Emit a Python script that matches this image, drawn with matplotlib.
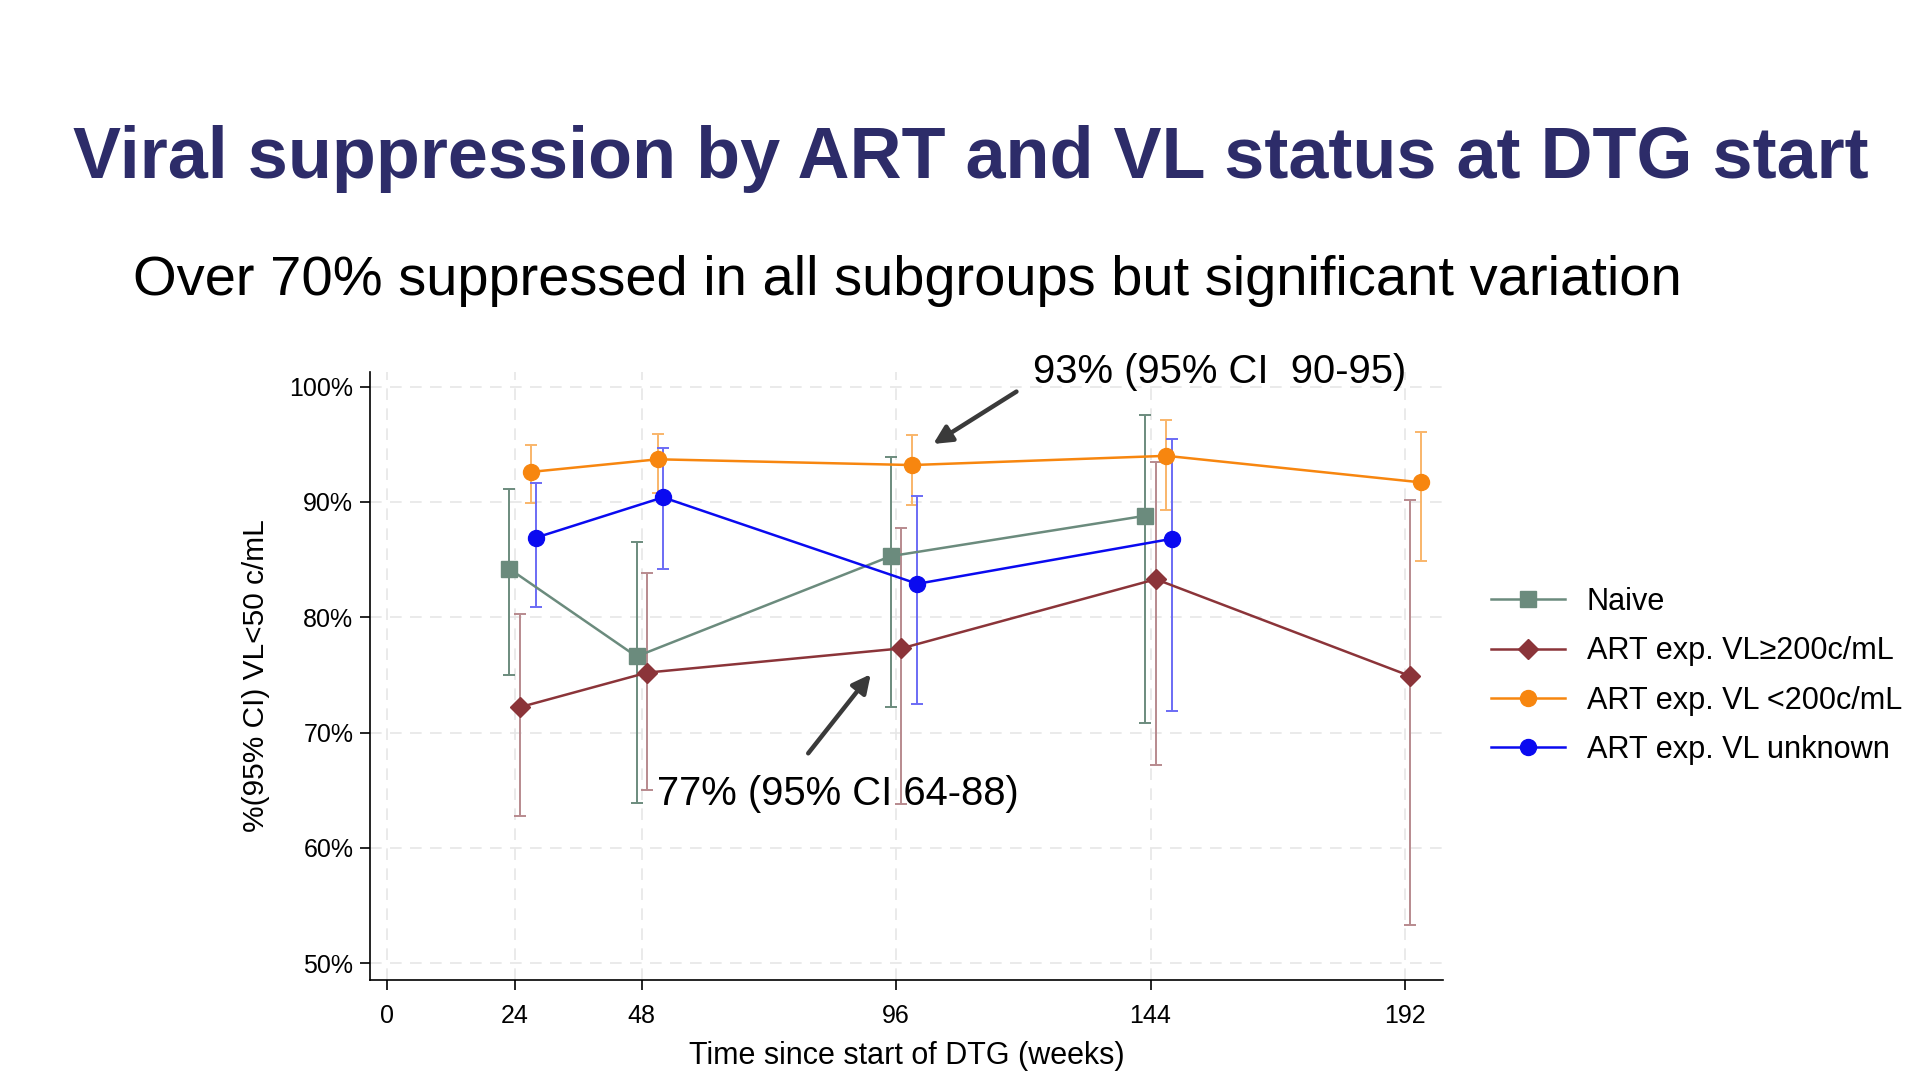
import matplotlib
matplotlib.use('Agg')
import matplotlib.pyplot as plt

# dados (semanas desde o inicio do DTG, % suprimido, IC 95%)
week_ticks = [0, 24, 48, 96, 144, 192]
pct_ticks = [50, 60, 70, 80, 90, 100]

naive_x = [23, 47, 95, 143]
naive_pct = [84.2, 76.6, 85.3, 88.8]
naive_lo = [75.0, 63.9, 72.2, 70.8]
naive_hi = [91.1, 86.5, 93.9, 97.5]

vlhigh_x = [25, 49, 97, 145, 193]
vlhigh_pct = [72.2, 75.2, 77.3, 83.3, 74.9]
vlhigh_lo = [62.8, 65.0, 63.8, 67.2, 53.3]
vlhigh_hi = [80.3, 83.8, 87.7, 93.5, 90.2]

vllow_x = [27, 51, 99, 147, 195]
vllow_pct = [92.6, 93.7, 93.2, 94.0, 91.7]
vllow_lo = [89.9, 90.8, 89.7, 89.3, 84.9]
vllow_hi = [94.9, 95.9, 95.8, 97.1, 96.1]

unk_x = [28, 52, 100, 148]
unk_pct = [86.9, 90.4, 82.9, 86.8]
unk_lo = [80.9, 84.2, 72.5, 71.9]
unk_hi = [91.6, 94.7, 90.5, 95.5]

FONTE = ['Liberation Sans', 'DejaVu Sans']

fig = plt.figure(figsize=(19.2, 10.8), dpi=100)
fig.patch.set_facecolor('white')

fig.text(73 / 1920, 1 - 178 / 1080, 'Viral suppression by ART and VL status at DTG start',
         family=FONTE, weight='bold', size=51.85, color='#2D2C69', va='baseline', ha='left')
fig.text(133 / 1920, 1 - 295 / 1080, 'Over 70% suppressed in all subgroups but significant variation',
         family=FONTE, size=40.4, color='black', va='baseline', ha='left')

ax = fig.add_axes([370 / 1920, 100 / 1080, 1073 / 1920, 608 / 1080])

series = [
    ('Naive', naive_x, naive_pct, naive_lo, naive_hi, '#6B8B7D', '#6B8B7D', 's', 11),
    ('ART exp. VL≥200c/mL', vlhigh_x, vlhigh_pct, vlhigh_lo, vlhigh_hi, '#8B3439', '#B88A8E', 'D', 10.5),
    ('ART exp. VL <200c/mL', vllow_x, vllow_pct, vllow_lo, vllow_hi, '#F7860F', '#F9B56A', 'o', 11.5),
    ('ART exp. VL unknown', unk_x, unk_pct, unk_lo, unk_hi, '#0A0AF0', '#6B6BF5', 'o', 11.5),
]

for nome, x, y, lo, hi, cor, cor_ic, mk, ms in series:
    yerr = [[v - l for v, l in zip(y, lo)], [h - v for v, h in zip(y, hi)]]
    ax.errorbar(x, y, yerr=yerr, fmt='none', ecolor=cor_ic, elinewidth=1.4,
                capsize=4, capthick=1.4, zorder=2)

for nome, x, y, lo, hi, cor, cor_ic, mk, ms in series:
    ax.plot(x, y, color=cor, lw=1.8, marker=mk, markersize=ms, label=nome, zorder=3)

ax.set_xlim(-3.3, 199.2)
ax.set_ylim(48.54, 101.27)
ax.set_xticks(week_ticks)
ax.set_yticks(pct_ticks)
ax.set_yticklabels([f'{p}%' for p in pct_ticks])
ax.grid(True, color='#E6E6E6', linestyle=(0, (7, 5)), linewidth=1.2)
ax.set_axisbelow(True)
for s in ['top', 'right']:
    ax.spines[s].set_visible(False)
for s in ['left', 'bottom']:
    ax.spines[s].set_linewidth(1.2)
ax.tick_params(axis='both', length=7, width=1.2, labelsize=18)
ax.tick_params(axis='y', pad=5)
ax.tick_params(axis='x', pad=10)
plt.setp(ax.get_xticklabels() + ax.get_yticklabels(), family=FONTE)

ax.set_xlabel('Time since start of DTG (weeks)', family=FONTE, size=22)
ax.set_ylabel('%(95% CI) VL<50 c/mL', family=FONTE, size=21.5)
ax.xaxis.set_label_coords(0.5, -0.1)
ax.yaxis.set_label_coords(-0.093, 0.5)

# anotacoes com setas
seta = dict(arrowstyle='-|>,head_length=1.1,head_width=0.55', color='#3A3A3A', lw=3.2,
            shrinkA=0, shrinkB=0)
ax.annotate('', xy=(103.0, 95.03), xytext=(118.7, 99.57), arrowprops=seta, annotation_clip=False)
ax.annotate('', xy=(91.2, 75.06), xytext=(79.4, 68.2), arrowprops=seta, annotation_clip=False)
ax.text(121.8, 100.32, '93% (95% CI  90-95)', family=FONTE, size=28.8, va='baseline', ha='left')
ax.text(50.8, 63.72, '77% (95% CI 64-88)', family=FONTE, size=28.8, va='baseline', ha='left')

fig.legend(loc='center left', bbox_to_anchor=(1491 / 1920, 1 - 676 / 1080), frameon=False,
           prop={'family': FONTE, 'size': 22.1}, handlelength=2.4, handletextpad=0.72,
           labelspacing=0.63, borderpad=0, borderaxespad=0, numpoints=1)

fig.savefig('out.png', dpi=100)
